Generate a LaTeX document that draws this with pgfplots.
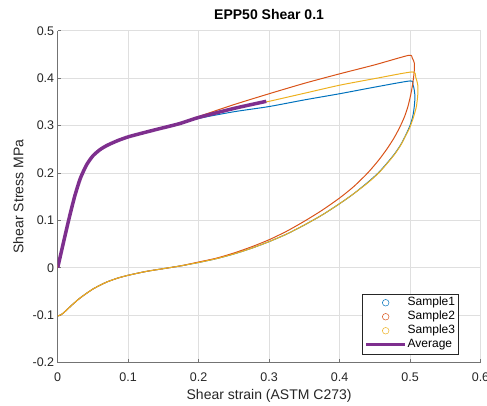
\documentclass[border=0pt]{standalone}
\usepackage{pgfplots}
\pgfplotsset{compat=1.18}
\usepackage{fontspec}
\setmainfont{Liberation Sans}
\definecolor{c1}{rgb}{0,0.447,0.741}
\definecolor{c2}{rgb}{0.85,0.325,0.098}
\definecolor{c3}{rgb}{0.929,0.694,0.125}
\definecolor{c4}{rgb}{0.494,0.184,0.556}
\definecolor{axgray}{rgb}{0.15,0.15,0.15}
\pgfplotsset{
  circlegend/.style={legend image code/.code={\draw[##1] plot[mark=o, mark size=3.3pt] coordinates {(19.5pt,0pt)};}},
  linelegend/.style={legend image code/.code={\draw[##1] (0pt,0pt) -- (39pt,0pt);}},
}
\begin{document}
\begin{tikzpicture}
\begin{axis}[
  scale only axis, width=422.8pt, height=331.8pt,
  xmin=0, xmax=0.6, ymin=-0.2, ymax=0.5,
  axis x line*=bottom, axis y line*=left,
  axis line style={black!55, line width=0.5pt},
  xtick={0,0.1,0.2,0.3,0.4,0.5,0.6},
  xticklabels={0,0.1,0.2,0.3,0.4,0.5,0.6},
  ytick={-0.2,-0.1,0,0.1,0.2,0.3,0.4,0.5},
  yticklabels={-0.2,-0.1,0,0.1,0.2,0.3,0.4,0.5},
  tick align=inside, major tick length=3.5pt,
  tick style={black!55, line width=0.5pt},
  grid=major, major grid style={gray!25, line width=0.5pt},
  ticklabel style={font=\fontsize{12.5}{14}\selectfont, text=axgray},
  xticklabel style={anchor=base, yshift=-19pt},
  title={EPP50 Shear 0.1},
  title style={font=\fontsize{14}{16}\selectfont\bfseries, at={([yshift=5.5pt]axis description cs:0.5,1)}, anchor=base},
  xlabel={Shear strain (ASTM C273)},
  xlabel style={font=\fontsize{14}{16}\selectfont, text=axgray, at={([yshift=-37pt]axis description cs:0.5,0)}, anchor=base},
  ylabel={Shear Stress MPa},
  ylabel style={font=\fontsize{14}{16}\selectfont, text=axgray, at={([xshift=-34.4pt]axis description cs:0,0.5)}, anchor=base},
  legend cell align=left,
  legend style={at={(axis description cs:0.9475,0.0256)}, anchor=south east, draw=axgray, line width=0.5pt, fill=white,
    font=\fontsize{12}{14}\selectfont, inner sep=2pt, row sep=0pt, cells={anchor=west},
    nodes={inner sep=1pt, text height=9pt, text depth=3pt}},
]
% Sample1
\addplot[c1, line width=1pt, smooth, tension=0.4, forget plot] coordinates {
(0,0)(0.008,0.052)(0.016,0.103)(0.024,0.15)(0.032,0.188)(0.041,0.217)(0.05,0.236)(0.06,0.249)(0.07,0.258)(0.085,0.268)(0.1,0.276)(0.12,0.284)(0.141,0.292)(0.173,0.304)
(0.2,0.315)(0.25,0.329)(0.3,0.340)(0.35,0.354)(0.4,0.367)(0.45,0.381)(0.5,0.394)
(0.504,0.387)(0.506,0.375)(0.507,0.36)(0.506,0.34)(0.504,0.32)(0.5,0.30)(0.494,0.28)(0.487,0.26)(0.478,0.24)(0.467,0.22)(0.455,0.2)(0.44,0.18)(0.42,0.156)(0.4,0.135)(0.375,0.111)(0.35,0.09)(0.325,0.071)(0.3,0.055)(0.275,0.041)(0.25,0.029)(0.225,0.019)(0.2,0.011)(0.175,0.004)(0.15,-0.002)(0.125,-0.008)(0.1,-0.016)(0.085,-0.022)(0.07,-0.03)(0.06,-0.037)(0.05,-0.045)(0.04,-0.055)(0.03,-0.066)(0.02,-0.079)(0.01,-0.093)(0.005,-0.099)(0,-0.102)
};
% Sample2
\addplot[c2, line width=1pt, smooth, tension=0.4, forget plot] coordinates {
(0,0)(0.008,0.052)(0.016,0.103)(0.024,0.15)(0.032,0.188)(0.041,0.217)(0.05,0.236)(0.06,0.249)(0.07,0.258)(0.085,0.268)(0.1,0.276)(0.12,0.284)(0.141,0.292)(0.173,0.305)
(0.2,0.319)(0.25,0.344)(0.3,0.367)(0.35,0.389)(0.4,0.409)(0.45,0.428)(0.498,0.448)
(0.503,0.443)(0.506,0.432)(0.506,0.415)(0.504,0.39)(0.501,0.365)(0.497,0.34)(0.492,0.318)(0.485,0.295)(0.477,0.273)(0.467,0.25)(0.455,0.226)(0.44,0.2)(0.42,0.171)(0.4,0.147)(0.375,0.121)(0.35,0.098)(0.325,0.077)(0.3,0.059)(0.275,0.044)(0.25,0.031)(0.225,0.02)(0.2,0.012)(0.175,0.004)(0.15,-0.002)(0.125,-0.008)(0.1,-0.016)(0.085,-0.022)(0.07,-0.03)(0.06,-0.037)(0.05,-0.045)(0.04,-0.055)(0.03,-0.066)(0.02,-0.079)(0.01,-0.093)(0.005,-0.099)(0,-0.102)
};
% Sample3
\addplot[c3, line width=1pt, smooth, tension=0.4, forget plot] coordinates {
(0,0)(0.008,0.052)(0.016,0.103)(0.024,0.15)(0.032,0.188)(0.041,0.217)(0.05,0.236)(0.06,0.249)(0.07,0.258)(0.085,0.268)(0.1,0.276)(0.12,0.284)(0.141,0.292)(0.173,0.304)
(0.2,0.317)(0.25,0.335)(0.3,0.351)(0.35,0.368)(0.4,0.385)(0.45,0.399)(0.503,0.413)
(0.508,0.402)(0.511,0.385)(0.511,0.365)(0.509,0.34)(0.505,0.318)(0.5,0.297)(0.494,0.279)(0.487,0.259)(0.478,0.239)(0.467,0.219)(0.455,0.199)(0.44,0.179)(0.42,0.156)(0.4,0.135)(0.375,0.111)(0.35,0.09)(0.325,0.071)(0.3,0.055)(0.275,0.041)(0.25,0.029)(0.225,0.019)(0.2,0.011)(0.175,0.004)(0.15,-0.002)(0.125,-0.008)(0.1,-0.016)(0.085,-0.022)(0.07,-0.03)(0.06,-0.037)(0.05,-0.045)(0.04,-0.055)(0.03,-0.066)(0.02,-0.079)(0.01,-0.093)(0.005,-0.099)(0,-0.102)
};
% Average
\addplot[c4, line width=3.5pt, smooth, tension=0.4, forget plot] coordinates {
(0,0)(0.008,0.052)(0.016,0.103)(0.024,0.15)(0.032,0.188)(0.041,0.217)(0.05,0.236)(0.06,0.249)(0.07,0.258)(0.085,0.268)(0.1,0.276)(0.12,0.284)(0.141,0.292)(0.173,0.304)
(0.2,0.317)(0.25,0.336)(0.296,0.351)
};
\addlegendimage{circlegend, c1, line width=0.5pt}
\addlegendentry{Sample1}
\addlegendimage{circlegend, c2, line width=0.5pt}
\addlegendentry{Sample2}
\addlegendimage{circlegend, c3, line width=0.5pt}
\addlegendentry{Sample3}
\addlegendimage{linelegend, c4, line width=3pt}
\addlegendentry{Average}
\end{axis}
\pgfresetboundingbox
\path[use as bounding box] ([shift={(-57.7pt,-42.5pt)}]current axis.south west) rectangle ([shift={(6.5pt,30.7pt)}]current axis.north east);
\end{tikzpicture}
\end{document}
